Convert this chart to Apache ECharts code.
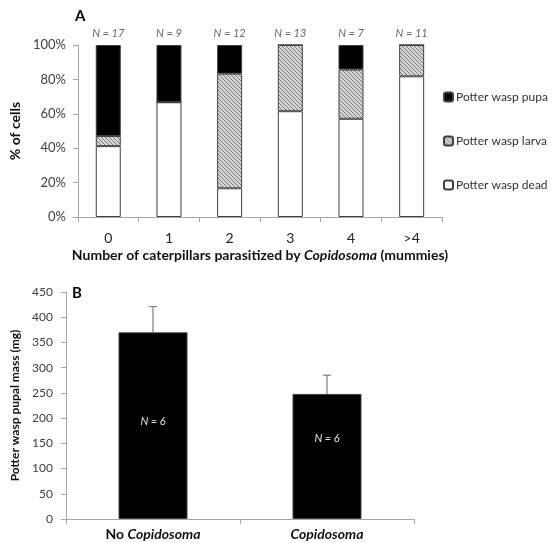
<!DOCTYPE html>
<html><head><meta charset="utf-8">
<script src="https://cdn.jsdelivr.net/npm/echarts@6/dist/echarts.min.js"></script>
<style>html,body{margin:0;padding:0;background:#fff}#c{width:554px;height:543px}</style>
</head><body><div id="c"></div>
<script>
// ---- Panel A data (percent of cells) ----
const categoriesA = ['0', '1', '2', '3', '4', '>4'];
const sampleSizesA = [17, 9, 12, 13, 7, 11];
const deadPct  = [41.2, 66.7, 16.7, 61.5, 57.1, 81.8];
const larvaPct = [5.9, 0, 66.6, 38.5, 28.6, 18.2];
const pupaPct  = [52.9, 33.3, 16.7, 0, 14.3, 0];
const seriesNamesA = ['Potter wasp dead', 'Potter wasp larva', 'Potter wasp pupa'];

// ---- Panel B data (pupal mass, mg) ----
const categoriesB = ['No Copidosoma', 'Copidosoma'];
const massMean = [370, 248];
const massErr = [51, 37];
const sampleSizesB = [6, 6];

const FONT = 'Lato, "Open Sans", sans-serif';

// hatch pattern for larva
const pat = document.createElement('canvas');
pat.width = 4; pat.height = 4;
const pc = pat.getContext('2d');
pc.fillStyle = '#d6d6d6'; pc.fillRect(0, 0, 4, 4);
pc.strokeStyle = '#7a7a7a'; pc.lineWidth = 1;
pc.beginPath(); pc.moveTo(0, 0); pc.lineTo(4, 4); pc.stroke();
pc.beginPath(); pc.moveTo(-1, 3); pc.lineTo(1, 5); pc.stroke();
pc.beginPath(); pc.moveTo(3, -1); pc.lineTo(5, 1); pc.stroke();

const axisGray = '#a6a6a6';
const labelColor = '#404040';
const border = { borderColor: '#404040', borderWidth: 1 };

const chart = echarts.init(document.getElementById('c'), null, { renderer: 'canvas' });

const option = {
  backgroundColor: '#fff',
  animation: false,
  textStyle: { fontFamily: FONT },
  grid: [
    { left: 73, right: 112, top: 45, bottom: 326, containLabel: false },
    { left: 66, right: 140, top: 292, bottom: 24, containLabel: false }
  ],
  legend: {
    orient: 'vertical', left: 438, top: 86,
    itemWidth: 9, itemHeight: 9, itemGap: 32,
    data: ['Potter wasp pupa', 'Potter wasp larva', 'Potter wasp dead'],
    textStyle: { fontFamily: FONT, fontSize: 12, color: '#333', padding: [0, 0, 0, -2] }
  },
  graphic: [
    { type: 'text', left: 75, top: 9, style: { text: 'A', font: 'bold 15px ' + FONT, fill: '#000' } },
    { type: 'text', left: 72, top: 286, style: { text: 'B', font: 'bold 15px ' + FONT, fill: '#000' } }
  ],
  xAxis: [
    {
      type: 'category', gridIndex: 0, data: categoriesA,
      axisLine: { lineStyle: { color: axisGray } },
      axisTick: { show: true, length: 5, lineStyle: { color: axisGray } },
      axisLabel: { fontFamily: FONT, fontSize: 14, color: '#222', margin: 14 },
      name: 'Number of caterpillars parasitized by {i|Copidosoma} (mummies)',
      nameLocation: 'middle', nameGap: 31,
      nameTextStyle: {
        fontFamily: FONT, fontSize: 14, fontWeight: 'bold', color: '#111',
        rich: { i: { fontFamily: FONT, fontSize: 14, fontWeight: 'bold', fontStyle: 'italic', color: '#111' } }
      }
    },
    {
      type: 'category', gridIndex: 1, data: categoriesB,
      axisLine: { lineStyle: { color: axisGray } },
      axisTick: { show: true, length: 5, lineStyle: { color: axisGray } },
      axisLabel: {
        fontFamily: FONT, fontSize: 14, fontWeight: 'bold', color: '#111', margin: 8,
        formatter: v => v.replace('Copidosoma', '{i|Copidosoma}'),
        rich: { i: { fontFamily: FONT, fontSize: 14, fontWeight: 'bold', fontStyle: 'italic', color: '#111' } }
      }
    }
  ],
  yAxis: [
    {
      type: 'value', gridIndex: 0, min: 0, max: 100, interval: 20,
      axisLine: { show: true, lineStyle: { color: axisGray } },
      axisTick: { show: true, length: 5, lineStyle: { color: axisGray } },
      splitLine: { show: false },
      axisLabel: { fontFamily: FONT, fontSize: 13, color: labelColor, margin: 12, formatter: '{value}%' },
      name: '% of cells', nameLocation: 'middle', nameGap: 47,
      nameTextStyle: { fontFamily: FONT, fontSize: 14, fontWeight: 'bold', color: '#111' }
    },
    {
      type: 'value', gridIndex: 1, min: 0, max: 450, interval: 50,
      axisLine: { show: true, lineStyle: { color: axisGray } },
      axisTick: { show: true, length: 5, lineStyle: { color: axisGray } },
      splitLine: { show: false },
      axisLabel: { fontFamily: FONT, fontSize: 12, color: labelColor, margin: 13 },
      name: 'Potter wasp pupal mass (mg)', nameLocation: 'middle', nameGap: 45,
      nameTextStyle: { fontFamily: FONT, fontSize: 12, fontWeight: 'bold', color: '#111' }
    }
  ],
  series: [
    {
      name: seriesNamesA[0], type: 'bar', stack: 'A', xAxisIndex: 0, yAxisIndex: 0,
      data: deadPct, barWidth: 25,
      itemStyle: Object.assign({ color: '#ffffff' }, border)
    },
    {
      name: seriesNamesA[1], type: 'bar', stack: 'A', xAxisIndex: 0, yAxisIndex: 0,
      data: larvaPct, barWidth: 25,
      itemStyle: Object.assign({ color: { image: pat, repeat: 'repeat' } }, border)
    },
    {
      name: seriesNamesA[2], type: 'bar', stack: 'A', xAxisIndex: 0, yAxisIndex: 0,
      data: pupaPct, barWidth: 25,
      itemStyle: Object.assign({ color: '#000000' }, border)
    },
    {
      name: 'N labels A', type: 'scatter', xAxisIndex: 0, yAxisIndex: 0,
      symbolSize: 0, silent: true,
      data: categoriesA.map((c, i) => [i, 100]),
      label: {
        show: true, position: 'top', distance: 6,
        formatter: p => 'N = ' + sampleSizesA[p.dataIndex],
        fontFamily: FONT, fontSize: 11, fontStyle: 'italic', color: '#404040'
      }
    },
    {
      name: 'Pupal mass', type: 'bar', xAxisIndex: 1, yAxisIndex: 1,
      barWidth: 69,
      itemStyle: { color: '#000', borderColor: '#404040', borderWidth: 1 },
      data: massMean.map((m, i) => ({
        value: m,
        label: { offset: [0, i === 0 ? -4 : -18] }
      })),
      label: {
        show: true, position: 'inside',
        formatter: p => 'N = ' + sampleSizesB[p.dataIndex],
        fontFamily: FONT, fontSize: 11, fontStyle: 'italic', color: '#e6e6e6'
      }
    },
    {
      name: 'Error', type: 'custom', xAxisIndex: 1, yAxisIndex: 1, z: 5, silent: true,
      data: massMean.map((m, i) => [i, m, massErr[i]]),
      renderItem: function (params, api) {
        const x = api.value(0);
        const base = api.coord([x, api.value(1)]);
        const top = api.coord([x, api.value(1) + api.value(2)]);
        const st = { stroke: '#808080', lineWidth: 1.2 };
        return {
          type: 'group', children: [
            { type: 'line', shape: { x1: top[0], y1: top[1], x2: base[0], y2: base[1] }, style: st },
            { type: 'line', shape: { x1: top[0] - 4, y1: top[1], x2: top[0] + 4, y2: top[1] }, style: st }
          ]
        };
      }
    }
  ]
};
chart.setOption(option);
</script>
</body></html>
